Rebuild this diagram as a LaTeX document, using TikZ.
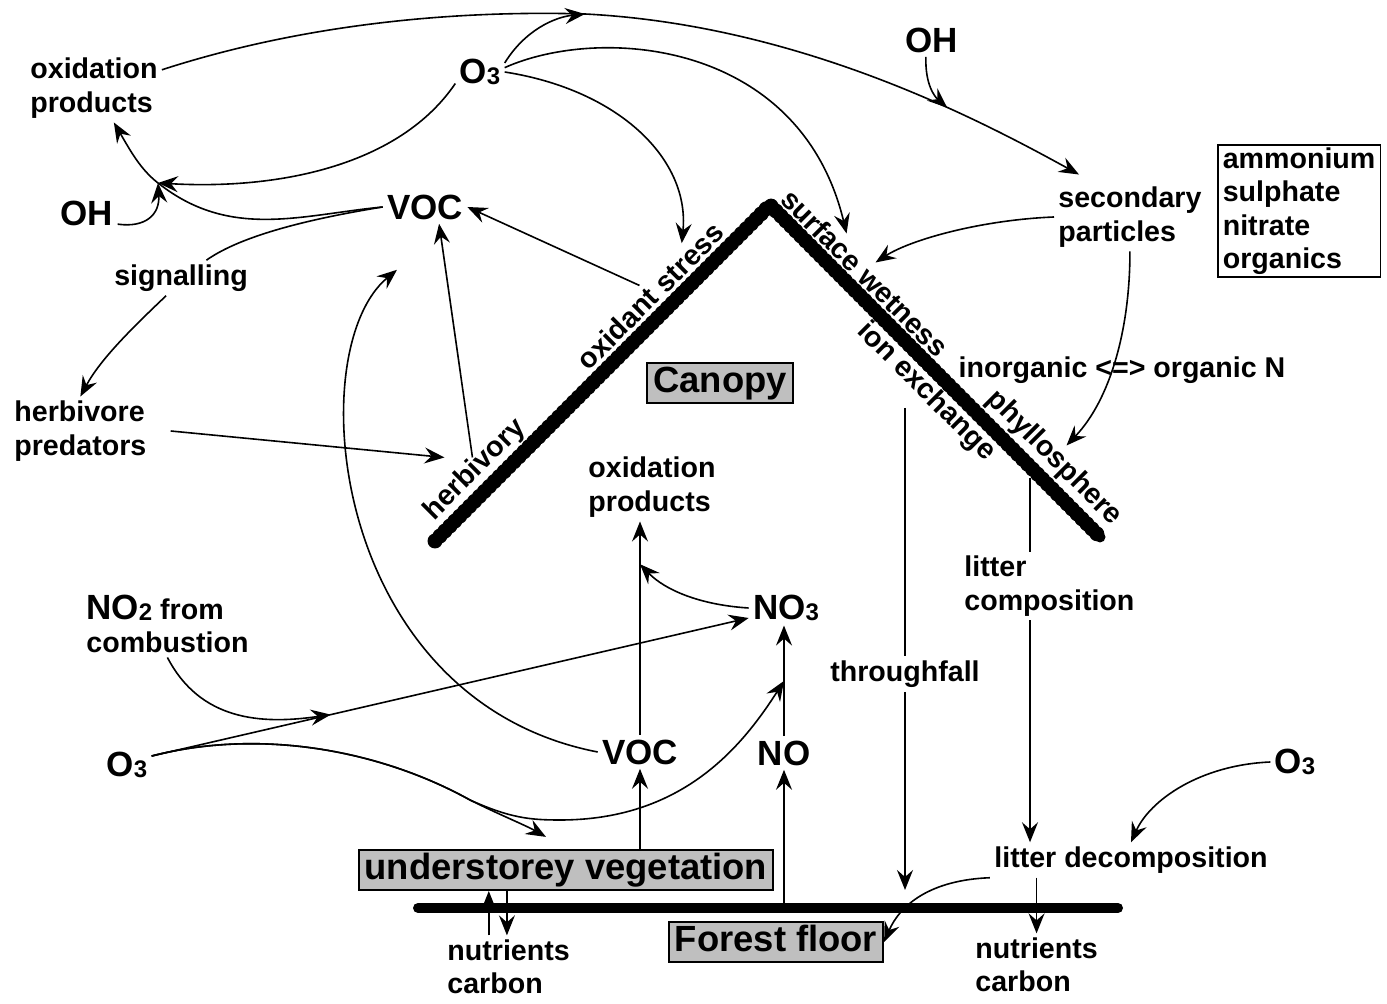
\documentclass[tikz,border=0pt]{standalone}
\usepackage{fontspec}
\setmainfont{Liberation Sans}
\usetikzlibrary{arrows.meta,positioning,calc}

\newcommand{\chemsub}[1]{\raisebox{-0.8pt}{\fontsize{12}{12}\selectfont #1}}

\tikzset{
  spc/.style={font=\fontsize{17.5}{21}\selectfont\bfseries, inner sep=2pt},
  lbl/.style={font=\fontsize{14.3}{16.75}\selectfont\bfseries, inner sep=2pt, align=center},
  lblL/.style={lbl, align=left},
  compart/.style={draw, line width=1pt, fill=gray!50, font=\fontsize{18.2}{21}\selectfont\bfseries,
    inner xsep=3pt, inner ysep=1.3pt, text height=13.5pt, text depth=4pt},
  arr/.style={-{Stealth[length=10pt,width=8pt,inset=3.5pt]}, line width=0.8pt},
  conn/.style={line width=0.8pt},
}

\begin{document}
\begin{tikzpicture}[x=0.5pt,y=-0.5pt]
\useasboundingbox (0,0) rectangle (1387,1004);

% canopy roof and forest floor
\coordinate (roofL) at (435,541);
\coordinate (roofT) at (770,205);
\coordinate (roofR) at (1100,537);
\draw[line width=5.5pt, line cap=round, line join=round] (roofL) -- (roofT) -- (roofR);
\draw[line width=7.5pt, line cap=round, dash pattern=on 0pt off 3.5pt] (roofL) -- (roofT) -- (roofR);
\coordinate (fl1) at (418,908);
\coordinate (fl2) at (1118,908);
\draw[line width=5pt, line cap=round] (fl1) -- (fl2);

% labels
\node[lblL, anchor=west] (ox1) at (26,88) {oxidation\\products};
\node[spc] (o3a) at (480,72) {O\chemsub{3}};
\node[spc] (oh1) at (932,40) {OH};
\node[spc] (oh2) at (87,213) {OH};
\node[spc] (voc1) at (425,207) {VOC};
\node[lbl] (sig) at (181,278) {signalling};
\node[lblL, anchor=west] (pred) at (10,431) {herbivore\\predators};
\node[lblL, anchor=west] (sec) at (1054,217) {secondary\\particles};
\node[lblL, anchor=north west, draw, line width=0.8pt, inner xsep=2.5pt, inner ysep=1.3pt] (salts) at (1217,144) {ammonium\\sulphate\\nitrate\\organics};
\node[lbl, rotate=45] (herb) at (475,470) {herbivory};
\node[lbl, rotate=45] (oxs) at (650,296) {oxidant stress};
\node[lbl, rotate=-45] (sw) at (865,273) {surface wetness};
\node[lbl, rotate=-45] (ionx) at (926,392) {ion exchange};
\node[lbl, rotate=-45] (phyl) at (1054,458) {phyllosphere};
\node[lbl] (inorg) at (1122,370) {inorganic <=> organic N};
\node[compart] (canopy) at (720,383) {Canopy};
\node[lblL, anchor=west] (ox2) at (584,487) {oxidation\\products};
\node[spc] (no3) at (786,608) {NO\chemsub{3}};
\node[lblL, anchor=west] (no2) at (82,624) {{\fontsize{17.5}{21}\selectfont NO\chemsub{2}} from\\combustion};
\node[spc] (o3b) at (127,765) {O\chemsub{3}};
\node[spc] (voc2) at (640,752) {VOC};
\node[spc] (no) at (784,753) {NO};
\node[lbl] (tf) at (905,674) {throughfall};
\node[lblL, anchor=west] (litc) at (960,586) {litter\\composition};
\node[spc] (o3c) at (1295,762) {O\chemsub{3}};
\node[lbl] (litd) at (1131,860) {litter decomposition};
\node[compart] (und) at (566,870) {understorey vegetation};
\node[compart] (floor) at (776,942) {Forest floor};
\node[lblL, anchor=west] (nc1) at (443,967) {nutrients\\carbon};
\node[lblL, anchor=west] (nc2) at (971,965) {nutrients\\carbon};

% above the canopy
\coordinate (topj) at (585,14);
\coordinate (oxj) at (158,183);
\draw[arr] (ox1.15) .. controls (300,25) and (450,10) .. (topj)
  .. controls (800,25) and (980,120) .. ([xshift=12.5pt,yshift=4pt]sec.north west) coordinate[pos=0.65] (ohj);
\draw[arr] (o3a.20) .. controls (525,30) and (555,17) .. (topj);
\draw[arr] (oh1.-110) .. controls (925,85) and (935,97) .. (ohj);
\draw[arr] (o3a.10) .. controls (600,25) and (800,40) .. (sw.160);
\draw[arr] (o3a.east) .. controls (620,90) and (690,160) .. (oxs.14);
\draw[arr] (o3a.205) .. controls (400,165) and (280,190) .. (oxj);
\draw[arr] (voc1.west) .. controls (300,215) and (230,240) .. (oxj) .. controls (140,169) and (130,150) .. (ox1.-60);
\draw[arr] (oh2.-20) .. controls (145,228) and (160,215) .. (oxj);
\draw[conn] (voc1.west) .. controls (290,222) and (235,240) .. (sig.35);
\draw[arr] (sig.-130) .. controls (130,330) and (100,360) .. (pred.north);
\draw[arr] (oxs.north) -- (voc1.east);
\draw[arr] ([xshift=5pt]herb.north) -- (voc1.-50);
\draw[arr] ([xshift=10pt]pred.east) -- ([xshift=-9pt]herb.north);
\draw[arr] (voc2.west) .. controls (330,700) and (300,350) .. ([xshift=-14pt,yshift=-23pt]voc1.south);
\draw[arr] (sec.west) .. controls (980,220) and (910,240) .. (sw.north);
\draw[arr] (sec.south) .. controls (1130,330) and (1110,400) .. (phyl.north);

% below the canopy
\coordinate (n2j) at ($(o3b.20)!0.3!(no3.195)$);
\coordinate (noj) at ($(no.north)!0.5!(no.north |- no3.south)$);
\coordinate (voxj) at ($(voc2.north)!0.8!(voc2.north |- ox2.south)$);
\draw[arr] (o3b.20) -- (no3.195);
\draw[arr] (no2.south) .. controls (200,720) and (260,725) .. (n2j);
\draw[arr] (o3b.20) .. controls (260,728) and (380,750) .. (470,800)
  .. controls (500,815) and (525,825) .. ([xshift=-10pt,yshift=6pt]und.north);
\draw[arr] (o3b.20) .. controls (260,728) and (380,750) .. (470,800)
  .. controls (510,818) and (530,820) .. (560,820) .. controls (680,820) and (740,750) .. (noj);
\draw[arr] (no3.west) .. controls (700,605) and (665,590) .. (voxj);
\draw[arr] (voc2.north) -- (voc2.north |- ox2.south);
\draw[arr] (voc2.south |- und.north) -- (voc2.south);
\draw[arr] (no.south |- fl1) -- (no.south);
\draw[arr] (no.north) -- (no.north |- no3.south);

% throughfall and litter
\coordinate (tftop) at (905,408);
\coordinate (tfbot) at (905,890);
\draw[conn] (tftop) -- (tf.north);
\draw[arr] (tf.south) -- (tfbot);
\coordinate (phylj) at (1030,478);
\draw[conn] (phylj) -- (phylj |- litc.north);
\draw[arr] (phylj |- litc.south) -- (phylj |- litd.north);
\draw[arr] (o3c.west) .. controls (1200,765) and (1150,800) .. (litd.north);
\draw[arr] (litd.south west) .. controls (930,880) and (900,905) .. (floor.east);
\draw[arr] (nc2.north |- litd.south) -- (nc2.north);
\draw[arr] (nc1.122) -- (nc1.122 |- und.south);
\draw[arr] (nc1.93 |- und.south) -- (nc1.93);
\end{tikzpicture}
\end{document}
